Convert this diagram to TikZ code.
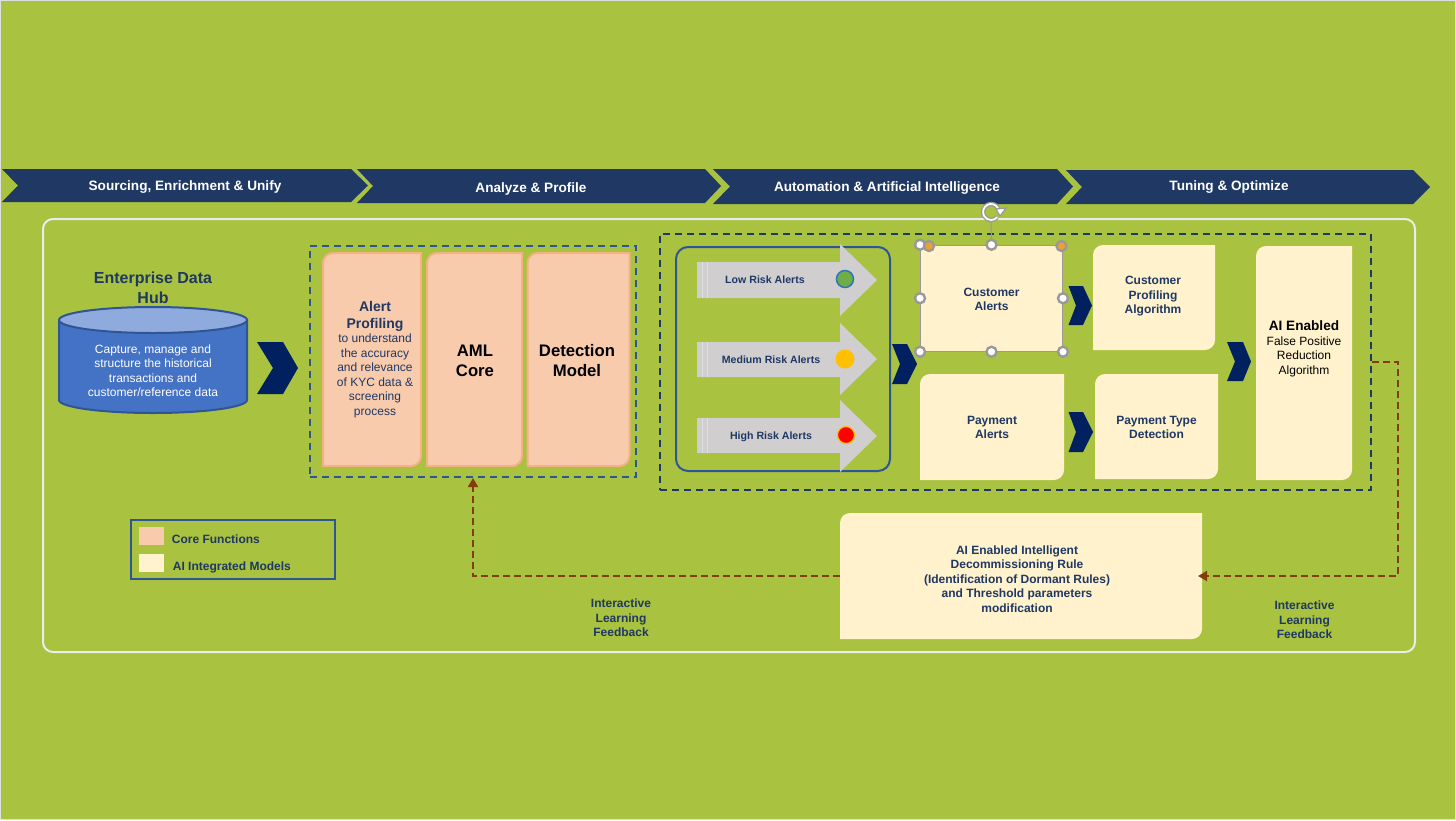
\documentclass[tikz,border=0pt]{standalone}
\usepackage{fontspec}
\setmainfont{Liberation Sans}
\usetikzlibrary{arrows.meta,positioning,calc}

\definecolor{olivebg}{HTML}{A9C23F}
\definecolor{navyband}{HTML}{1F3864}
\definecolor{navychev}{HTML}{002060}
\definecolor{framblue}{HTML}{2F5597}
\definecolor{peachfill}{HTML}{F8CBAD}
\definecolor{peachline}{HTML}{F4B183}
\definecolor{creamfill}{HTML}{FFF2CC}
\definecolor{hubblue}{HTML}{4472C4}
\definecolor{hubtop}{HTML}{8FAADC}
\definecolor{alertgray}{HTML}{D0CECE}
\definecolor{feedbrown}{HTML}{843C0C}
\definecolor{handlegray}{HTML}{999999}
\definecolor{dotgreen}{HTML}{70AD47}
\definecolor{dotline}{HTML}{2E75B6}
\definecolor{dotamber}{HTML}{FFC000}
\definecolor{handleorange}{HTML}{F0A030}

\tikzset{
  bandtext/.style={text=white, font=\fontsize{6.8}{8}\selectfont\bfseries},
  bodytext/.style={align=center, text=navyband, font=\fontsize{6}{7.25}\selectfont\bfseries},
  smalltext/.style={align=center, text=navyband, font=\fontsize{5.3}{7}\selectfont\bfseries},
  plaintext/.style={align=center, font=\fontsize{6}{7.25}\selectfont},
  bigtext/.style={align=center, font=\fontsize{8.35}{10}\selectfont\bfseries},
  dashframe/.style={draw, line width=1pt, dash pattern=on 3.5pt off 2.5pt, inner sep=0pt},
  feedback/.style={draw=feedbrown, line width=0.9pt, dash pattern=on 3.4pt off 2.1pt, -{Triangle[length=4.5pt,width=5pt]}},
  corefn/.style={fill=peachfill, draw=peachline, line width=1pt},
  aimodel/.style={fill=creamfill},
  handle/.style={circle, draw=handlegray, fill=white, line width=1.2pt, minimum size=5pt, inner sep=0pt},
  orangehandle/.style={circle, draw=handlegray, fill=handleorange, line width=1.2pt, minimum size=5pt, inner sep=0pt},
}

% box with two soft corners, top left and bottom right
\newcommand{\softbox}[6]{
  \path[#6] (#2,{#3+10}) .. controls (#2,{#3+4.5}) and ({#2+4.5},#3) .. ({#2+10},#3) -- (#4,#3) -- (#4,{#5-10})
    .. controls (#4,{#5-4.5}) and ({#4-4.5},#5) .. ({#4-10},#5) -- (#2,#5) -- cycle;
  \node[minimum width={(#4-#2)*0.5pt}, minimum height={(#5-#3)*0.5pt}, inner sep=0pt, outer sep=0pt] (#1) at ({(#2+#4)/2},{(#3+#5)/2}) {};
}
% x left, x notch, x shoulder, x tip, y top, y bottom
\newcommand{\chevronmark}[6]{
  \fill[navychev] (#1,#5) -- (#3,#5) -- (#4,{(#5+#6)/2}) -- (#3,#6) -- (#1,#6) -- (#2,{(#5+#6)/2}) -- cycle;
}
% x tail, x shoulder, x tip, y shaft top, y shaft bottom, y head top, y head bottom
\newcommand{\alertarrow}[7]{
  \fill[alertgray] (#1,#4) -- (#2,#4) -- (#2,#6) -- (#3,{(#6+#7)/2}) -- (#2,#7) -- (#2,#5) -- (#1,#5) -- cycle;
  \draw[white!35!alertgray, line width=0.4pt] ({#1+5},#4) -- ({#1+5},#5) ({#1+10},#4) -- ({#1+10},#5);
}

\begin{document}
\begin{tikzpicture}[x=0.5pt,y=-0.5pt]
  \useasboundingbox (0,0) rectangle (1456,820);
  \fill[olivebg] (0,0) rectangle (1456,820);
  \draw[white!75!gray, line width=0.5pt] (0.5,0.5) rectangle (1455.5,819.5);

  % Top bands
  \fill[navyband] (2,169) -- (351,169) -- (368,185.5) -- (351,202) -- (2,202) -- (18,185.5) -- cycle;
  \fill[navyband] (357,169) -- (705,169) -- (721,186) -- (705,203) -- (357,203) -- (373,186) -- cycle;
  \fill[navyband] (713,169) -- (1057,169) -- (1073,186.5) -- (1057,204) -- (713,204) -- (730,186.5) -- cycle;
  \fill[navyband] (1066,170) -- (1413,170) -- (1430,187) -- (1413,204) -- (1066,204) -- (1082,187) -- cycle;
  \node[bandtext] (band1) at (185,187) {Sourcing, Enrichment \& Unify};
  \node[bandtext] (band2) at (531,188.5) {Analyze \& Profile};
  \node[bandtext] (band3) at (887,188) {Automation \& Artificial Intelligence};
  \node[bandtext] (band4) at (1229,187.5) {Tuning \& Optimize};

  % Outer frame
  \draw[white!85!gray, line width=1pt, rounded corners=5pt] (43,219) rectangle (1415,652);

  % Data hub
  \path[fill=hubblue, draw=framblue, line width=1pt] (59,320) -- (59,400) arc[start angle=180, end angle=0, x radius=94, y radius=13] -- (247,320) -- cycle;
  \path[fill=hubtop, draw=framblue, line width=1pt] (153,320) ellipse[x radius=94, y radius=13];
  \node[align=center, text=navyband, font=\fontsize{8}{10}\selectfont\bfseries] (hubtitle) at (153,288) {Enterprise Data\\Hub};
  \node[align=center, text=white, font=\fontsize{6}{7.25}\selectfont] (hub) at (153,370.5) {Capture, manage and\\structure the historical\\transactions and\\customer/reference data};
  \chevronmark{257}{273}{283}{298}{342}{394}

  % Core functions
  \node[dashframe, draw=framblue, minimum width=163pt, minimum height=115.5pt] (coreframe) at (473,361.5) {};
  \softbox{alertbox}{323}{253}{421}{466}{corefn}
  \softbox{amlbox}{427}{253}{522}{466}{corefn}
  \softbox{detectbox}{527.5}{253}{629.5}{466}{corefn}
  \node[align=center, text=navyband, font=\fontsize{7}{8.5}\selectfont\bfseries] (alerttitle) at (375,316.5) {Alert\\Profiling};
  \node[align=center, text=navyband, font=\fontsize{6}{7.25}\selectfont] (alerttext) at (375,376) {to understand\\the accuracy\\and relevance\\of KYC data \&\\screening\\process};
  \node[bigtext] (amltext) at (475,361) {AML\\Core};
  \node[bigtext] (detecttext) at (577,361) {Detection\\Model};

  % Models frame
  \node[dashframe, draw=navyband, minimum width=355.5pt, minimum height=128pt] (modelsframe) at (1015.5,361.5) {};
  \draw[framblue, line width=1pt, rounded corners=6pt] (676,247) rectangle (890,471);

  % Alert arrows
  \alertarrow{697}{840}{877}{262}{298}{244}{316}
  \alertarrow{697}{840}{877}{342}{377}{323}{395}
  \alertarrow{697}{840}{877}{418}{453}{400}{472}
  \node[smalltext] (lowtext) at (765,280) {Low Risk Alerts};
  \node[smalltext] (medtext) at (771,360) {Medium Risk Alerts};
  \node[smalltext] (hightext) at (771,436.5) {High Risk Alerts};
  \node[circle, fill=dotgreen, draw=dotline, line width=0.75pt, minimum size=8.5pt, inner sep=0pt] (lowdot) at (845,279) {};
  \node[circle, fill=dotamber, minimum size=9.5pt, inner sep=0pt] (meddot) at (845,359) {};
  \node[circle, fill=red, draw=dotamber, line width=0.6pt, minimum size=8.5pt, inner sep=0pt] (highdot) at (846,435) {};
  \chevronmark{892}{900}{907}{917}{344}{384}

  % Alert boxes
  \node[aimodel, draw=handlegray, line width=0.5pt, minimum width=71pt, minimum height=53pt, inner sep=0pt] (custbox) at (991.5,298.25) {};
  \node[bodytext] (custtext) at (991.5,299.5) {Customer\\Alerts};
  \softbox{paybox}{920}{374}{1064}{480}{aimodel}
  \node[bodytext] (paytext) at (992,427.5) {Payment\\Alerts};

  % Selection handles
  \draw[handlegray, line width=0.5pt] (custbox.north) -- (991,222);
  \node[handle] (h1) at (custbox.north west) {};
  \node[handle] (h2) at (custbox.north) {};
  \node[handle] (h3) at (custbox.west) {};
  \node[handle] (h4) at (custbox.east) {};
  \node[handle] (h5) at (custbox.south west) {};
  \node[handle] (h6) at (custbox.south) {};
  \node[handle] (h7) at (custbox.south east) {};
  \node[orangehandle] (h8) at (929,246) {};
  \node[orangehandle] (h9) at (1061.5,246) {};
  \draw[handlegray, line width=2.2pt] (998,208) arc[start angle=-30, end angle=-320, radius=8];
  \draw[white, line width=0.9pt] (998,208) arc[start angle=-30, end angle=-320, radius=8];
  \fill[white, draw=handlegray, line width=0.6pt] (996,209) -- (1006,208) -- (1000,216) -- cycle;

  % Model boxes
  \chevronmark{1068.5}{1076}{1083}{1092}{286}{325}
  \chevronmark{1068.5}{1076}{1083}{1093}{412}{452}
  \softbox{profbox}{1093}{245}{1215}{350}{aimodel}
  \softbox{typebox}{1095}{374}{1218}{479}{aimodel}
  \node[bodytext] (proftext) at (1153,296.5) {Customer\\Profiling\\Algorithm};
  \node[bodytext] (typetext) at (1156.5,427.5) {Payment Type\\Detection};
  \chevronmark{1227}{1235}{1243}{1251}{342}{381}
  \softbox{aibox}{1256}{246}{1352}{480}{aimodel}
  \node[font=\fontsize{6.8}{8}\selectfont\bfseries] (aititle) at (1304,326) {AI Enabled};
  \node[plaintext] (aitext) at (1304,356.5) {False Positive\\Reduction\\Algorithm};

  % Rule box
  \softbox{rulebox}{840}{513}{1202}{639}{aimodel}
  \node[bodytext] (ruletext) at (1017,579) {AI Enabled Intelligent\\Decommissioning Rule\\(Identification of Dormant Rules)\\and Threshold parameters\\modification};

  % Legend
  \draw[framblue, line width=1pt] (131,520) rectangle (335,579);
  \fill[peachfill] (139,527) rectangle (164,545);
  \fill[creamfill] (139,554) rectangle (164,572);
  \node[bodytext, anchor=west, inner sep=0pt] (legcore) at (171.5,539) {Core Functions};
  \node[bodytext, anchor=west, inner sep=0pt] (legai) at (172.5,567) {AI Integrated Models};

  % Feedback labels
  \node[bodytext] (fbleft) at (621,618) {Interactive\\Learning\\Feedback};
  \node[bodytext] (fbright) at (1304.5,620) {Interactive\\Learning\\Feedback};

  % Draw edges
  \coordinate (fbturn) at (1398,576);
  \draw[feedback, shorten >=-2pt] ([yshift=-0.25pt]modelsframe.east) -| (fbturn) -- (rulebox.east);
  \draw[feedback] (rulebox.west) -| (coreframe.south);
\end{tikzpicture}
\end{document}
